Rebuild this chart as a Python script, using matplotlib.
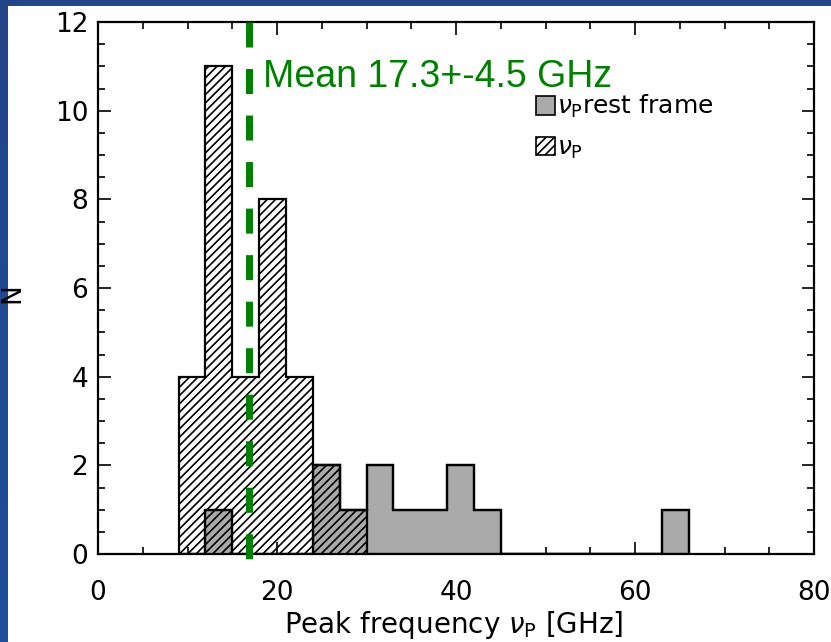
import numpy as np
import matplotlib
matplotlib.use('Agg')
import matplotlib.pyplot as plt
from matplotlib.patches import Patch, Rectangle

# histogram bins (GHz), 3 GHz wide from 9 to 66
bin_edges = [9, 12, 15, 18, 21, 24, 27, 30, 33, 36, 39, 42, 45, 48, 51, 54, 57, 60, 63, 66]
# observed peak frequency (hatched)
counts_obs = [4, 11, 4, 8, 4, 2, 1, 0, 0, 0, 0, 0, 0, 0, 0, 0, 0, 0, 0]
# rest frame peak frequency (grey)
counts_rest = [0, 1, 0, 0, 0, 2, 1, 2, 1, 1, 2, 1, 0, 0, 0, 0, 0, 0, 1]
mean_label = 'Mean 17.3+-4.5 GHz'
mean_x = 16.9

plt.rcParams['font.family'] = 'DejaVu Sans'
plt.rcParams['hatch.linewidth'] = 1.2

fig = plt.figure(figsize=(8.31, 6.42), dpi=100)

# blue slide background with white panel
bg = fig.add_axes([0, 0, 1, 1], zorder=-10)
grad = np.linspace(0, 1, 256).reshape(-1, 1)
cmap = matplotlib.colors.LinearSegmentedColormap.from_list('bg', ['#23458a', '#1e4e9a'])
bg.imshow(grad, aspect='auto', cmap=cmap, extent=[0, 1, 0, 1], origin='upper')
bg.add_patch(Rectangle((8 / 831, 0), 1, 1 - 6 / 642, transform=bg.transAxes,
                       facecolor='white', edgecolor='none'))
bg.set_xlim(0, 1)
bg.set_ylim(0, 1)
bg.axis('off')

ax = fig.add_axes([98 / 831, 1 - 554 / 642, (814 - 98) / 831, (554 - 22) / 642])
ax.patch.set_alpha(0)

ax.stairs(counts_rest, bin_edges, fill=True, facecolor='#aaaaaa',
          edgecolor='black', linewidth=1.6, zorder=2)
ax.stairs(counts_obs, bin_edges, fill=True, facecolor='none', hatch='////',
          edgecolor='black', linewidth=1.6, zorder=3)
ax.stairs(counts_rest, bin_edges, fill=False, edgecolor='black',
          linewidth=1.6, zorder=4)

ax.plot([mean_x, mean_x], [12, -0.16], color='#008000', linewidth=5,
        dashes=(3.6, 3.1), solid_capstyle='butt', dash_capstyle='butt',
        clip_on=False, zorder=5)
ax.text(18.4, 10.53, mean_label, color='#008000', fontsize=27,
        family='Liberation Sans', va='baseline', ha='left', zorder=6)

ax.set_xlim(0, 80)
ax.set_ylim(0, 12)
ax.set_xticks([0, 20, 40, 60, 80])
ax.set_xticks(np.arange(0, 81, 5), minor=True)
ax.set_yticks([0, 2, 4, 6, 8, 10, 12])
ax.set_yticks(np.arange(0, 12.1, 0.5), minor=True)
ax.tick_params(which='both', direction='in', top=True, right=True, width=1.2,
               labelsize=19)
ax.tick_params(which='major', length=9)
ax.tick_params(which='minor', length=5)
ax.tick_params(axis='x', pad=19)
ax.tick_params(axis='y', pad=7)
for s in ax.spines.values():
    s.set_linewidth(1.6)

ax.set_xlabel(r'Peak frequency $\nu_{\mathrm{P}}$ [GHz]', fontsize=20)
ax.xaxis.set_label_coords(0.497, -0.103)
ax.set_ylabel('N', fontsize=19)
ax.yaxis.set_label_coords(-0.102, 0.49)

handles = [Patch(facecolor='#aaaaaa', edgecolor='black', linewidth=1.2),
           Patch(facecolor='white', edgecolor='black', hatch='////', linewidth=1.2)]
labels = [r'$\nu_{\mathrm{P}}$rest frame', r'$\nu_{\mathrm{P}}$']
ax.legend(handles, labels, loc='upper left', bbox_to_anchor=(0.612, 0.866),
          frameon=False, fontsize=18, handlelength=0.75, handleheight=0.75,
          handletextpad=0.1, labelspacing=0.6, borderpad=0, borderaxespad=0)

fig.savefig('out.png', dpi=100)
